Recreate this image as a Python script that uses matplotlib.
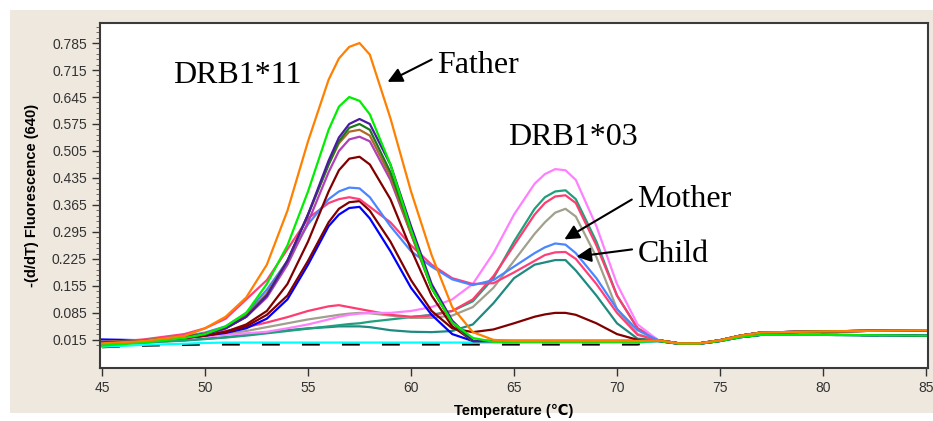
import matplotlib.pyplot as plt
import matplotlib.patches as mpatches
import numpy as np

plt.rcParams['font.family'] = ['Liberation Sans', 'DejaVu Sans']

# temperature grid (degC) shared by every curve
temp = [45, 47, 49, 50, 51, 52, 53, 54, 55, 56, 56.5, 57, 57.5, 58, 59, 60, 61, 62,
        63, 64, 65, 66, 66.5, 67, 67.5, 68, 69, 70, 71, 72, 73, 74, 75, 76, 77, 80, 85]

tail_hi = [0.014, 0.006, 0.006, 0.014, 0.026, 0.034, 0.037, 0.04]
tail_lo = [0.012, 0.005, 0.005, 0.012, 0.022, 0.028, 0.028, 0.026]
flat = [0.012] * 15   # 63 .. 71

father = [0.006, 0.012, 0.025, 0.045, 0.075, 0.125, 0.21, 0.35, 0.53, 0.69, 0.745, 0.775, 0.785,
          0.755, 0.59, 0.40, 0.235, 0.10, 0.035, 0.015, 0.012, 0.012, 0.012, 0.012, 0.012,
          0.012, 0.012, 0.012, 0.012] + tail_hi
lime = [0.0, 0.008, 0.02, 0.03, 0.05, 0.085, 0.16, 0.26, 0.40, 0.56, 0.62, 0.645, 0.635,
        0.60, 0.47, 0.30, 0.15, 0.06, 0.02] + [0.01] * 10 + tail_lo
indigo = [0.008, 0.012, 0.022, 0.03, 0.045, 0.075, 0.13, 0.22, 0.34, 0.48, 0.54, 0.575, 0.588,
          0.575, 0.47, 0.31, 0.16, 0.065] + flat[:11] + tail_lo
dkgreen = [0.008, 0.012, 0.022, 0.03, 0.045, 0.075, 0.13, 0.22, 0.34, 0.47, 0.53, 0.565, 0.575,
           0.56, 0.45, 0.30, 0.15, 0.06] + flat[:11] + tail_hi
sienna = [0.01, 0.014, 0.024, 0.032, 0.048, 0.08, 0.135, 0.22, 0.34, 0.47, 0.525, 0.555, 0.56,
          0.545, 0.44, 0.29, 0.15, 0.06] + flat[:11] + tail_hi
orchid = [0.008, 0.012, 0.022, 0.03, 0.045, 0.075, 0.125, 0.21, 0.32, 0.45, 0.505, 0.535, 0.542,
          0.53, 0.43, 0.29, 0.15, 0.06] + flat[:11] + tail_hi
maroon_a = [0.008, 0.012, 0.02, 0.026, 0.036, 0.055, 0.09, 0.16, 0.27, 0.40, 0.455, 0.485, 0.49,
            0.47, 0.38, 0.25, 0.13, 0.05] + flat[:11] + tail_hi
maroon_b = [0.008, 0.012, 0.02, 0.026, 0.035, 0.05, 0.08, 0.13, 0.22, 0.32, 0.355, 0.372, 0.375,
            0.35, 0.27, 0.17, 0.09, 0.045, 0.035, 0.042, 0.058, 0.075, 0.081, 0.085, 0.085,
            0.08, 0.058, 0.03, 0.015] + tail_hi
blue = [0.016, 0.014, 0.02, 0.026, 0.033, 0.045, 0.07, 0.12, 0.21, 0.31, 0.34, 0.357, 0.36,
        0.33, 0.245, 0.15, 0.08, 0.03] + flat[:11] + tail_lo
mother = [0.008, 0.014, 0.024, 0.034, 0.05, 0.085, 0.145, 0.22, 0.315, 0.38, 0.40, 0.41, 0.408,
          0.385, 0.31, 0.245, 0.205, 0.172, 0.157, 0.17, 0.205, 0.24, 0.255, 0.265, 0.262,
          0.24, 0.175, 0.095, 0.04] + tail_hi
child = [0.008, 0.016, 0.03, 0.045, 0.07, 0.12, 0.17, 0.25, 0.33, 0.37, 0.38, 0.385, 0.38,
         0.36, 0.32, 0.26, 0.21, 0.175, 0.16, 0.162, 0.19, 0.22, 0.235, 0.242, 0.243,
         0.225, 0.16, 0.085, 0.028] + tail_hi
teal = [0.005, 0.008, 0.014, 0.018, 0.022, 0.028, 0.034, 0.04, 0.045, 0.048, 0.05, 0.05, 0.05,
        0.048, 0.04, 0.036, 0.035, 0.038, 0.055, 0.11, 0.175, 0.21, 0.216, 0.222, 0.222,
        0.195, 0.13, 0.058, 0.018] + tail_hi
violet = [0.008, 0.012, 0.02, 0.024, 0.028, 0.032, 0.036, 0.045, 0.055, 0.068, 0.075, 0.08, 0.083,
          0.085, 0.085, 0.09, 0.10, 0.12, 0.16, 0.24, 0.34, 0.42, 0.445, 0.458, 0.455,
          0.43, 0.31, 0.16, 0.055] + tail_hi
jungle = [0.005, 0.008, 0.013, 0.017, 0.021, 0.026, 0.032, 0.038, 0.044, 0.05, 0.053, 0.056, 0.058,
          0.062, 0.068, 0.074, 0.08, 0.09, 0.115, 0.175, 0.27, 0.355, 0.385, 0.40, 0.403,
          0.38, 0.27, 0.13, 0.045] + tail_hi
pinkred = [0.008, 0.014, 0.024, 0.03, 0.038, 0.048, 0.06, 0.074, 0.09, 0.102, 0.105, 0.10, 0.095,
           0.09, 0.08, 0.075, 0.078, 0.09, 0.12, 0.18, 0.26, 0.34, 0.37, 0.387, 0.39,
           0.37, 0.26, 0.13, 0.045] + tail_hi
gray = [0.008, 0.012, 0.02, 0.024, 0.03, 0.038, 0.048, 0.058, 0.068, 0.076, 0.08, 0.083, 0.085,
        0.084, 0.078, 0.072, 0.072, 0.078, 0.10, 0.15, 0.22, 0.29, 0.32, 0.345, 0.355,
        0.335, 0.23, 0.095, 0.03] + tail_hi
cyan = [-0.003, 0.002, 0.005, 0.007] + [0.008] * 25 + tail_lo
black = [-0.004, 0.0, 0.002, 0.003] + [0.003] * 25 + tail_lo

curves = [
    (black, 'black', (0, (8, 10))),
    (cyan, '#00ffff', '-'),
    (teal, '#1f8a80', '-'),
    (jungle, '#1fa07c', '-'),
    (gray, '#a0a08c', '-'),
    (pinkred, '#ff3c70', '-'),
    (violet, '#ff80ff', '-'),
    (blue, '#0000ff', '-'),
    (maroon_b, '#800000', '-'),
    (child, '#ff3f7a', '-'),
    (mother, '#4a86ff', '-'),
    (maroon_a, '#800000', '-'),
    (orchid, '#b040b8', '-'),
    (sienna, '#b0682a', '-'),
    (dkgreen, '#1a7a1a', '-'),
    (indigo, '#4b1aa0', '-'),
    (lime, '#00ee00', '-'),
    (father, '#ff8000', '-'),
]

fig = plt.figure(figsize=(9.33, 4.21), dpi=100)
fig.patches.append(mpatches.Rectangle((10 / 933, 8 / 421), 1 - 10 / 933, 403 / 421,
                                      transform=fig.transFigure, facecolor='#efe8de',
                                      edgecolor='none', zorder=-5))
ax = fig.add_axes([100 / 933, 1 - 368 / 421, 828 / 933, 345 / 421])
ax.set_facecolor('white')

for vals, col, ls in curves:
    ax.plot(temp, vals, color=col, lw=1.6, ls=ls)

ax.set_xlim(44.9, 85.1)
ax.set_ylim(-0.058, 0.837)
ax.set_xticks(np.arange(45, 86, 5))
yt = np.arange(0.015, 0.79, 0.07)
ax.set_yticks(yt)
ax.set_yticklabels(['%.3f' % v for v in yt])
ax.set_yticks(np.arange(0.001, 0.84, 0.014), minor=True)
ax.tick_params(axis='both', labelsize=10, colors='#333333', length=6, width=1)
ax.tick_params(axis='y', which='minor', length=3, color='#555555')
for sp in ax.spines.values():
    sp.set_color('#3a3a3a')
    sp.set_linewidth(1.5)

ax.set_xlabel('Temperature (℃)', fontsize=10.5, fontweight='bold', labelpad=6)
ax.set_ylabel('-(d/dT) Fluorescence (640)', fontsize=10.5, fontweight='bold', labelpad=9)

serif = ['Liberation Serif', 'DejaVu Serif']
ax.text(48.45, 0.681, 'DRB1*11', family=serif, fontsize=23)
ax.text(64.7, 0.52, 'DRB1*03', family=serif, fontsize=23)
arrow = dict(arrowstyle='-|>', color='black', lw=1.5, mutation_scale=22)
ax.annotate('Father', xy=(58.74, 0.681), xytext=(61.26, 0.707), family=serif, fontsize=23,
            arrowprops=dict(arrow, relpos=(0, 0.8)))
ax.annotate('Mother', xy=(67.33, 0.272), xytext=(70.97, 0.36), family=serif, fontsize=23,
            arrowprops=dict(arrow, relpos=(0, 0.6)))
ax.annotate('Child', xy=(67.9, 0.23), xytext=(71.0, 0.217), family=serif, fontsize=23,
            arrowprops=dict(arrow, relpos=(0, 0.7)))

fig.savefig('out.png', dpi=100)
